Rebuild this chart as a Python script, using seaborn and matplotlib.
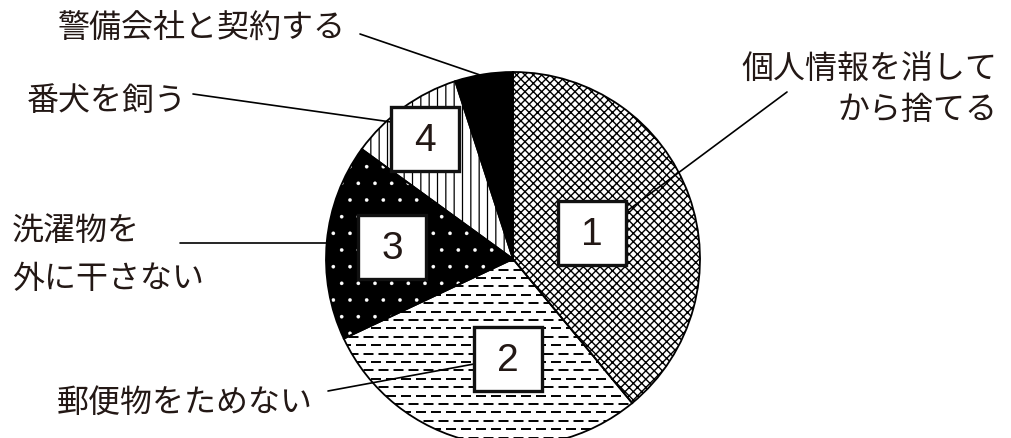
import numpy as np
import matplotlib
matplotlib.use('Agg')
import matplotlib.pyplot as plt
from matplotlib.patches import Rectangle
import seaborn as sns

# values (clockwise from 12 o'clock)
measures = ['個人情報を消して\nから捨てる', '郵便物をためない', '洗濯物を\n外に干さない', '番犬を飼う', '警備会社と契約する']
shares = [39, 29, 17, 10, 5]
ranks = ['1', '2', '3', '4']

W, H = 1012, 439
INK = '#231815'

sns.set_theme(style='white')
plt.rcParams['font.family'] = ['Noto Sans CJK JP', 'DejaVu Sans']
plt.rcParams['hatch.linewidth'] = 1.0
plt.rcParams['lines.scale_dashes'] = False


def flip(y):
    return H - y


fig = plt.figure(figsize=(W / 100, H / 100), dpi=100)
ax = fig.add_axes([0, 0, 1, 1])

center = (513, flip(260))
radius = 187

fills = ['white', 'white', 'black', 'white', 'black']
hatches = ['xxxx', None, '.', '||', None]
hatch_cols = ['black', 'black', 'white', 'black', 'black']
hatch_lws = [1.0, 1.0, 0.2, 0.9, 1.0]

wedges, _ = ax.pie(shares, startangle=90, counterclock=False, center=center,
                   radius=radius, frame=False)
for w, fc, h, hc, hl in zip(wedges, fills, hatches, hatch_cols, hatch_lws):
    w.set_facecolor(fc)
    w.set_edgecolor(hc)
    w.set_linewidth(0)
    w.set_hatch(h)
    if hasattr(w, 'set_hatch_linewidth'):
        w.set_hatch_linewidth(hl)
    else:
        w._hatch_linewidth = hl

# dashed horizontal texture for slice 2
ys = np.arange(center[1] - radius, center[1] + radius, 8.4)
for i, y in enumerate(ys):
    ln, = ax.plot([center[0] - radius, center[0] + radius], [y, y], color='black',
                  lw=1.4, ls=((i % 2) * 5.4, (7.2, 3.6)), zorder=2)
    ln.set_clip_path(wedges[1])

# outlines
ax.pie(shares, startangle=90, counterclock=False, center=center, radius=radius,
       frame=False, wedgeprops=dict(fill=False, edgecolor='black', linewidth=1.3, zorder=3))

# leader lines
leaders = [((787, 93), (627, 212)),
           ((328, 392), (474, 365)),
           ((180, 244), (359, 244)),
           ((193, 95), (391, 123)),
           ((360, 35), (483, 77))]
for (x0, y0), (x1, y1) in leaders:
    ax.plot([x0, x1], [flip(y0), flip(y1)], color='black', lw=1.2, zorder=3.5)

# numbered boxes
box_centers = [(592, 234), (508, 360), (392, 248), (425, 140)]
for r, (cx, cy) in zip(ranks, box_centers):
    ax.add_patch(Rectangle((cx - 34, flip(cy) - 32), 68, 64, facecolor='white',
                           edgecolor='#111111', linewidth=2.4, zorder=4))
    ax.text(cx, flip(cy + 1), r, fontsize=28, color=INK, ha='center', va='center',
            family=['Liberation Sans', 'DejaVu Sans'], zorder=5)

# category labels: (x, first line centre y, line step, alignment)
label_pos = [(997, 69, 41, 'right'),
             (57, 403, 0, 'left'),
             (12, 231, 48, 'left'),
             (27, 101, 0, 'left'),
             (58, 28, 0, 'left')]
for name, (x, y, step, ha) in zip(measures, label_pos):
    for k, line in enumerate(name.split('\n')):
        ax.text(x, flip(y + k * step), line, fontsize=23, color=INK, ha=ha, va='center')

ax.set_xlim(0, W)
ax.set_ylim(0, H)
ax.set_aspect('equal')
ax.axis('off')

fig.savefig('out.png', dpi=100)
